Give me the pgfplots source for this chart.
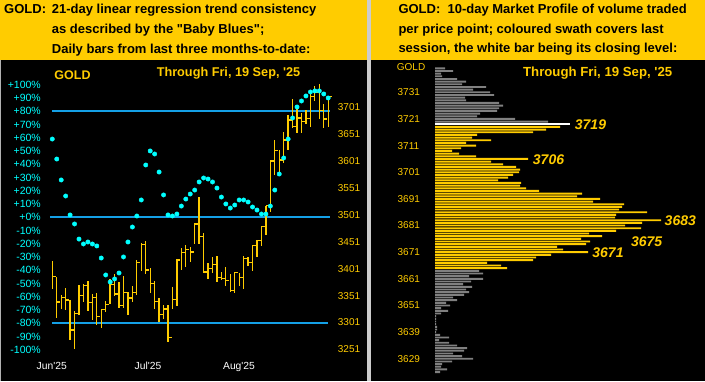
\documentclass[border=0pt]{standalone}
\usepackage{fontspec}
\setmainfont{Liberation Sans}
\usepackage{pgfplots}
\usepackage{pgfplotstable}
\pgfplotsset{compat=1.18}
\definecolor{gold}{HTML}{FFCC00}
\definecolor{dotc}{HTML}{00FFFF}
\definecolor{linec}{RGB}{20,160,230}
\definecolor{greybar}{HTML}{808080}
\pgfdeclareplotmark{rtick}{\pgfpathmoveto{\pgfpointorigin}\pgfpathlineto{\pgfpoint{3.6pt}{0pt}}\pgfusepathqstroke}
\newcommand{\fs}[1]{\fontsize{#1}{#1}\selectfont}

\pgfplotstableread{
i hi lo c
1 3415.2 3363.3 3386.2
2 3384.9 3310.1 3339.1
3 3351.5 3326.2 3347.2
4 3365.1 3324.3 3342.9
5 3342.9 3268.6 3287.2
6 3322.4 3251.9 3317.5
7 3370.7 3315.0 3350.9
8 3371.9 3339.8 3369.5
9 3378.1 3322.4 3337.9
10 3354.0 3305.7 3347.2
11 3355.8 3296.5 3311.9
12 3325.5 3290.9 3324.9
13 3341.0 3321.2 3334.8
14 3381.2 3334.8 3371.3
15 3391.1 3350.9 3354.0
16 3376.3 3328.6 3332.3
17 3387.4 3328.6 3356.5
18 3358.3 3315.0 3346.6
19 3368.8 3339.8 3356.5
20 3417.1 3352.1 3412.1
21 3448.0 3396.7 3445.5
22 3452.3 3391.1 3398.5
23 3402.2 3356.5 3373.2
24 3377.5 3326.2 3339.8
25 3346.6 3302.6 3316.3
26 3333.0 3307.6 3326.2
27 3333.0 3265.5 3273.0
28 3367.0 3326.2 3343.5
29 3418.3 3331.7 3417.1
30 3439.4 3398.5 3430.7
31 3444.9 3404.7 3436.9
32 3440.6 3414.0 3431.9
33 3485.1 3446.1 3483.9
34 3534.0 3446.1 3461.0
35 3467.2 3394.2 3394.8
36 3411.5 3381.2 3401.6
37 3422.6 3393.5 3408.4
38 3424.5 3376.8 3384.9
39 3394.8 3379.9 3382.4
40 3404.1 3369.4 3378.7
41 3391.1 3357.7 3360.1
42 3394.2 3355.2 3393.5
43 3393.5 3368.8 3384.3
44 3424.5 3363.9 3419.5
45 3423.2 3406.5 3412.1
46 3444.9 3397.3 3443.7
47 3454.2 3422.6 3452.9
48 3480.2 3443.7 3478.9
49 3517.9 3464.1 3517.9
50 3602.6 3506.8 3600.8
51 3639.8 3574.8 3620.0
52 3621.2 3573.6 3602.6
53 3654.6 3596.4 3639.8
54 3686.1 3621.2 3676.9
55 3715.8 3662.6 3664.5
56 3696.7 3652.1 3680.6
57 3689.2 3652.1 3673.8
58 3695.4 3668.8 3680.0
59 3729.4 3663.3 3720.2
60 3740.0 3712.7 3727.6
61 3743.7 3679.3 3694.2
62 3706.6 3661.4 3678.7
63 3720.2 3664.5 3720.2
}\ohlc

\pgfplotstableread{
i p
1 59.0
2 43.9
3 28.1
4 16.0
5 1.7
6 -5.1
7 -16.5
8 -20.2
9 -18.7
10 -20.2
11 -21.7
12 -30.8
13 -43.6
14 -48.9
15 -46.6
16 -42.1
17 -30.0
18 -18.7
19 -7.4
20 0.9
21 13.0
22 39.4
23 50.0
24 47.7
25 34.1
26 16.8
27 1.7
28 0.9
29 2.4
30 8.4
31 13.7
32 17.5
33 20.5
34 26.6
35 29.6
36 28.8
37 26.6
38 22.0
39 15.2
40 10.0
41 6.9
42 9.2
43 13.0
44 13.0
45 11.5
46 7.7
47 5.4
48 2.4
49 2.4
50 8.4
51 20.5
52 32.6
53 44.7
54 59.0
55 74.9
56 83.2
57 87.7
58 91.5
59 94.5
60 95.3
61 95.3
62 93.0
63 90.0
}\dotdata

\pgfplotstableread{
r len
0 10
1 18
2 6
3 7
4 22
5 31
6 27
7 51
8 38
9 55
10 59
11 30
12 31
13 64
14 68
15 64
16 62
17 45
18 42
19 80
20 113
}\pgA

\pgfplotstableread{
r len
21 135
}\pw

\pgfplotstableread{
r len
22 125
23 111
24 98
25 42
26 37
27 56
28 31
29 41
30 26
31 17
32 24
33 41
34 93
35 56
36 68
37 81
38 85
39 84
40 78
41 73
42 63
43 86
44 85
45 91
46 104
47 147
48 142
49 165
50 158
51 189
52 187
53 184
54 212
55 181
56 180
57 226
58 207
59 190
60 206
61 181
62 154
63 167
64 146
65 155
66 151
67 122
68 128
69 153
70 116
71 101
72 98
73 52
74 66
75 72
}\py

\pgfplotstableread{
r len
76 44
77 48
78 34
79 48
80 36
81 28
82 37
83 31
84 34
85 29
86 18
87 22
88 11
89 15
90 6
91 13
92 6
93 1
94 1
95 1
96 1
97 2
98 2
99 1
100 5
101 14
102 4
103 14
104 22
105 32
106 29
107 18
108 27
109 38
110 17
111 7
112 6
113 12
114 5
}\pgB

\pgfplotsset{common/.style={scale only axis, anchor=south west,
  axis line style={draw=none}, tick style={draw=none}, clip=false}}

\begin{document}
\begin{tikzpicture}[x=1pt,y=1pt]
\fill[black] (0,0) rectangle (705,381);
\fill[gold] (0,321) rectangle (367,381);
\fill[gold] (371,321) rectangle (705,381);
\fill[black!20] (367,0) rectangle (371,381);
\draw[black!30, line width=1.4pt] (0.7,0) -- (0.7,321);
\coordinate (LA) at (47.85pt,31.3pt);
\coordinate (RA) at (435pt,7.56pt);

% header texts
\begin{scope}[every node/.style={anchor=base west, inner sep=0pt, font=\bfseries\fs{13}, text=black}]
\node at (4,367.5) {GOLD:};
\node at (51.7,367.5) {21-day linear regression trend consistency};
\node at (51.7,347) {as described by the \textquotedbl Baby Blues\textquotedbl;};
\node at (51.7,327) {Daily bars from last three months-to-date:};
\node at (398.3,367.5) {GOLD:\ \ 10-day Market Profile of volume traded};
\node at (398.3,347.5) {per price point; coloured swath covers last};
\node at (398.3,328) {session, the white bar being its closing level:};
\end{scope}

% left: percent axis with reference lines
\begin{axis}[common, at={(LA)}, width=284.8pt, height=265pt,
  xmin=0, xmax=64, ymin=-100, ymax=100,
  ytick={-100,-90,-80,-70,-60,-50,-40,-30,-20,-10,0,10,20,30,40,50,60,70,80,90,100},
  yticklabels={-100\%,-90\%,-80\%,-70\%,-60\%,-50\%,-40\%,-30\%,-20\%,-10\%,+0\%,+10\%,+20\%,+30\%,+40\%,+50\%,+60\%,+70\%,+80\%,+90\%,+100\%},
  yticklabel style={text=dotc, font=\fs{10.5}, anchor=east, inner sep=0pt, xshift=-6.85pt},
  xtick={0.87,22.5,42.96},
  xticklabels={Jun\textquotesingle25,Jul\textquotesingle25,Aug\textquotesingle25},
  xticklabel style={text=white, font=\fs{10.3}, anchor=north, inner sep=0pt, yshift=-12pt}]
\addplot[color=linec, line width=1.5pt, mark=none] coordinates {(0.9,80) (63.4,80)};
\addplot[color=linec, line width=1.5pt, mark=none] coordinates {(0.48,0) (63.4,0)};
\addplot[color=linec, line width=1.5pt, mark=none] coordinates {(1,-80) (62.9,-80)};
\end{axis}

% left: price axis with daily bars
\begin{axis}[common, at={(LA)}, width=284.8pt, height=265pt,
  xmin=0, xmax=64, ymin=3250.6, ymax=3742.4, xtick=\empty,
  ytick={3251,3301,3351,3401,3451,3501,3551,3601,3651,3701},
  yticklabels={3251,3301,3351,3401,3451,3501,3551,3601,3651,3701},
  yticklabel pos=right,
  yticklabel style={text=gold, font=\fs{10}, anchor=west, inner sep=0pt, xshift=5.05pt}]
\addplot[color=gold, only marks, mark=rtick, mark options={color=gold, line width=1.3pt},
  error bars/.cd, y dir=both, y explicit, error mark=none,
  error bar style={color=gold, line width=1.3pt}]
  table[x=i, y=c, y error plus expr=\thisrow{hi}-\thisrow{c}, y error minus expr=\thisrow{c}-\thisrow{lo}]{\ohlc};
\end{axis}

% left: Baby Blues dots
\begin{axis}[common, at={(LA)}, width=284.8pt, height=265pt,
  xmin=0, xmax=64, ymin=-100, ymax=100, xtick=\empty, ytick=\empty]
\addplot[only marks, mark=*, mark size=2.2pt, color=dotc] table[x=i, y=p]{\dotdata};
\end{axis}

% right: market profile
\begin{axis}[common, at={(RA)}, width=270pt, height=306.47pt,
  xmin=0, xmax=270, ymin=-0.5, ymax=114.5, y dir=reverse,
  xbar, bar width=1.9pt, bar shift=0pt, xtick=\empty,
  ytick={9,19,29,39,49,59,69,79,89,99,109},
  yticklabels={3731,3721,3711,3701,3691,3681,3671,3661,3651,3639,3629},
  yticklabel style={text=gold, font=\fs{10}, anchor=west, inner sep=0pt, xshift=-33.3pt}]
\addplot[fill=greybar, draw=none] table[x=len, y=r]{\pgA};
\addplot[fill=white, draw=none] table[x=len, y=r]{\pw};
\addplot[fill=gold, draw=none] table[x=len, y=r]{\py};
\addplot[fill=greybar, draw=none] table[x=len, y=r]{\pgB};
\end{axis}

% panel titles
\node[font=\bfseries\fs{12.5}, text=gold, inner sep=0pt] at (72.5,305.5) {GOLD};
\node[font=\bfseries\fs{12.7}, text=gold, inner sep=0pt] at (228.5,308) {Through Fri, 19 Sep, \textquotesingle25};
\node[font=\fs{10}, text=gold, inner sep=0pt, anchor=west] at (396.7,314.3) {GOLD};
\node[font=\bfseries\fs{13.2}, text=gold, inner sep=0pt] at (597.7,308) {Through Fri, 19 Sep, \textquotesingle25};

% profile callouts
\begin{scope}[every node/.style={font=\bfseries\itshape\fs{14}, text=gold, inner sep=0pt}]
\node at (590.5,256.8) {3719};
\node at (548.5,221.8) {3706};
\node at (680.3,160.2) {3683};
\node at (646.7,139.3) {3675};
\node at (608,128.5) {3671};
\end{scope}

\pgfresetboundingbox
\useasboundingbox (0,0) rectangle (705,381);
\end{tikzpicture}
\end{document}
